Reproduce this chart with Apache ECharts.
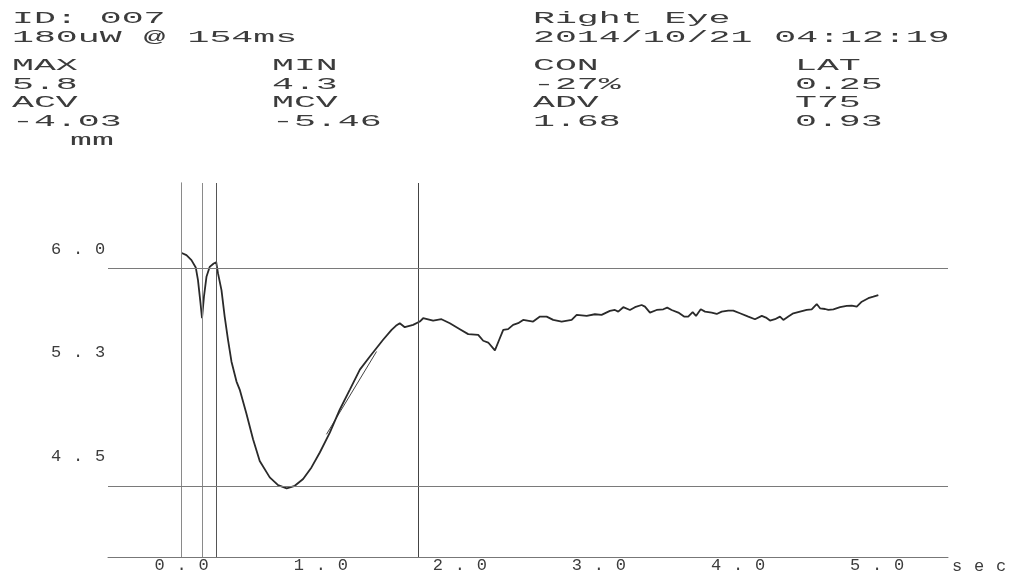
<!DOCTYPE html>
<html><head><meta charset="utf-8">
<script src="https://cdn.jsdelivr.net/npm/echarts@6/dist/echarts.min.js"></script>
<style>html,body{margin:0;padding:0;background:#fff}#c{width:1014px;height:575px}</style>
</head><body><div id="c"></div>
<script>
// ---- data ----
const pupilTrace = [
 [0.000,5.973],[0.034,5.957],[0.070,5.921],[0.101,5.868],[0.117,5.776],[0.135,5.611],[0.146,5.500],
 [0.160,5.656],[0.178,5.800],[0.201,5.872],[0.230,5.897],[0.248,5.906],[0.261,5.825],[0.286,5.704],
 [0.309,5.512],[0.333,5.344],[0.358,5.185],[0.394,5.041],[0.417,4.983],[0.465,4.810],[0.513,4.623],
 [0.561,4.466],[0.633,4.347],[0.693,4.291],[0.755,4.267],[0.813,4.286],[0.873,4.335],[0.933,4.419],
 [0.993,4.527],[1.065,4.671],[1.137,4.839],[1.209,4.983],[1.281,5.128],[1.353,5.223],[1.448,5.344],
 [1.509,5.416],[1.540,5.445],[1.568,5.464],[1.604,5.435],[1.664,5.452],[1.712,5.476],[1.736,5.500],
 [1.808,5.483],[1.868,5.493],[1.928,5.464],[2.000,5.421],[2.060,5.385],[2.132,5.380],[2.168,5.337],
 [2.204,5.324],[2.252,5.267],[2.283,5.344],[2.312,5.416],[2.347,5.421],[2.383,5.452],[2.419,5.464],
 [2.455,5.488],[2.527,5.476],[2.576,5.512],[2.624,5.512],[2.671,5.488],[2.732,5.476],[2.804,5.488],
 [2.840,5.524],[2.912,5.517],[2.971,5.529],[3.019,5.524],[3.079,5.553],[3.115,5.560],[3.139,5.548],
 [3.175,5.580],[3.223,5.560],[3.259,5.580],[3.307,5.596],[3.331,5.584],[3.367,5.541],[3.415,5.560],
 [3.463,5.565],[3.491,5.577],[3.523,5.560],[3.571,5.541],[3.612,5.512],[3.642,5.512],[3.674,5.544],
 [3.698,5.517],[3.732,5.565],[3.763,5.548],[3.811,5.541],[3.847,5.531],[3.883,5.548],[3.930,5.555],
 [3.966,5.555],[4.014,5.536],[4.074,5.512],[4.122,5.493],[4.171,5.517],[4.201,5.505],[4.230,5.483],
 [4.266,5.493],[4.302,5.512],[4.326,5.488],[4.362,5.512],[4.398,5.536],[4.446,5.548],[4.494,5.560],
 [4.530,5.565],[4.566,5.603],[4.590,5.572],[4.626,5.567],[4.650,5.560],[4.686,5.565],[4.734,5.580],
 [4.782,5.589],[4.818,5.591],[4.854,5.584],[4.890,5.620],[4.937,5.645],[4.973,5.656],[5.009,5.668]
];
const fitLine = [[1.041,4.659],[1.401,5.259]];
const eventTimes = [0, 0.154, 0.25, 1.70];      // onset, stimulus end, LAT, T75 point
const levelLines = [5.856, 4.277];              // MAX and MIN levels
const xTickValues = [0, 1, 2, 3, 4, 5];
const xTickLabels = ['0.0', '1.0', '2.0', '3.0', '4.0', '5.0'];
const yTickValues = [4.5, 5.25, 6.0];
const yTickLabels = ['4.5', '5.3', '6.0'];
const yUnit = 'mm';
const xUnit = 'sec';
const headerIdLines = ['ID: 007', '180uW @ 154ms'];
const headerEyeLines = ['Right Eye', '2014/10/21 04:12:19'];
const metricNames1 = ['MAX', 'MIN', 'CON', 'LAT'];
const metricValues1 = ['5.8', '4.3', '-27%', '0.25'];
const metricNames2 = ['ACV', 'MCV', 'ADV', 'T75'];
const metricValues2 = ['-4.03', '-5.46', '1.68', '0.93'];

// ---- styling / layout ----
const FONT = '"Liberation Mono", "DejaVu Sans Mono", monospace';
const INK = '#3c3c3c';
const CELL = 22;
const wide = s => s.split('').map(c => '{c|' + c + '}').join('');
const richCell = { c: { width: CELL, align: 'center', fontSize: 17, fontFamily: FONT, color: INK } };

const colX = [12, 272, 533, 795];
const rowY = [18, 37, 65, 84, 102, 121];
const SX = 2.15;
function hText(txt, x, y) {
  return { type: 'text', x: x, y: y, scaleX: SX, scaleY: 1, silent: true,
    style: { text: txt, x: 0, y: 0, font: '17px ' + FONT, fill: INK,
             textVerticalAlign: 'middle', verticalAlign: 'middle', textAlign: 'left', align: 'left' } };
}
const graphics = [];
headerIdLines.forEach((s, i) => graphics.push(hText(s, colX[0], rowY[i])));
headerEyeLines.forEach((s, i) => graphics.push(hText(s, colX[2], rowY[i])));
metricNames1.forEach((s, i) => graphics.push(hText(s, colX[i], rowY[2])));
metricValues1.forEach((s, i) => graphics.push(hText(s, colX[i], rowY[3])));
metricNames2.forEach((s, i) => graphics.push(hText(s, colX[i], rowY[4])));
metricValues2.forEach((s, i) => graphics.push(hText(s, colX[i], rowY[5])));
graphics.push(hText(yUnit, 70, 140));   // y-axis unit label

const eventColors = ['#8a8a8a', '#8a8a8a', '#555', '#444'];
const markData = [];
eventTimes.forEach((t, i) => markData.push({ xAxis: t, lineStyle: { color: eventColors[i], width: 1, type: 'solid' } }));
levelLines.forEach(v => markData.push({ yAxis: v, lineStyle: { color: '#7a7a7a', width: 1, type: 'solid' } }));

const chart = echarts.init(document.getElementById('c'), null, { renderer: 'canvas' });
chart.setOption({
  animation: false,
  backgroundColor: '#fff',
  grid: { left: 108, top: 183, right: 66, bottom: 17, containLabel: false },
  graphic: graphics,
  xAxis: {
    type: 'value', min: -0.53, max: 5.51,
    name: wide(xUnit), nameLocation: 'end', nameGap: -2,
    nameTextStyle: { verticalAlign: 'top', align: 'left', rich: richCell, padding: [1, 0, 0, 0] },
    axisLine: { show: true, lineStyle: { color: '#777', width: 1 } },
    axisTick: { show: false },
    splitLine: { show: false },
    axisLabel: {
      customValues: xTickValues, margin: 0,
      formatter: v => { const k = xTickValues.findIndex(x => Math.abs(x - v) < 1e-6); return k < 0 ? '' : wide(xTickLabels[k]); },
      rich: richCell
    }
  },
  yAxis: {
    type: 'value', min: 3.77, max: 6.48,
    axisLine: { show: true, lineStyle: { color: '#555', width: 1 } },
    axisTick: { show: false },
    splitLine: { show: false },
    axisLabel: {
      customValues: yTickValues, margin: -3,
      formatter: v => { const k = yTickValues.findIndex(x => Math.abs(x - v) < 1e-6); return k < 0 ? '' : wide(yTickLabels[k]); },
      rich: richCell
    }
  },
  series: [
    {
      type: 'line', data: pupilTrace, showSymbol: false, symbol: 'none',
      lineStyle: { color: '#2a2a2a', width: 1.8 }, z: 3,
      markLine: { silent: true, symbol: 'none', label: { show: false }, animation: false, data: markData }
    },
    {
      type: 'line', data: fitLine, showSymbol: false, symbol: 'none',
      lineStyle: { color: '#444', width: 1 }, z: 2
    }
  ]
});
</script>
</body></html>
